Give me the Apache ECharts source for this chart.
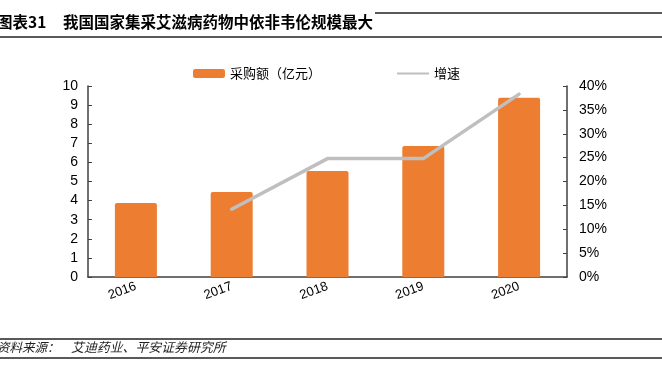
<!DOCTYPE html>
<html><head><meta charset="utf-8">
<script src="https://cdn.jsdelivr.net/npm/echarts@6/dist/echarts.min.js"></script>
<style>html,body{margin:0;padding:0;background:#fff}#c{width:662px;height:374px}</style>
</head><body><div id="c"></div>
<script>
var categories = ['2016', '2017', '2018', '2019', '2020'];
var purchaseAmount = [3.87, 4.45, 5.55, 6.86, 9.38];
var growthRate = [null, 14.2, 24.8, 24.8, 38.3];
var leftTicks = [0, 1, 2, 3, 4, 5, 6, 7, 8, 9, 10];
var rightTicks = [0, 5, 10, 15, 20, 25, 30, 35, 40];
var titleLabel = '图表31';
var titleText = '我国国家集采艾滋病药物中依非韦伦规模最大';
var sourceLabel = '资料来源：';
var sourceText = '艾迪药业、平安证券研究所';

var chart = echarts.init(document.getElementById('c'), null, {renderer: 'canvas'});
var axisColor = '#404040';
var font = '"Liberation Sans", Arial, "Noto Sans CJK SC", sans-serif';
chart.setOption({
  animation: false,
  textStyle: {fontFamily: font},
  grid: {left: 88, right: 95, top: 86, bottom: 97},
  legend: {
    top: 62, left: 188, itemGap: 76, itemWidth: 32, itemHeight: 9,
    textStyle: {fontSize: 13, color: '#000', fontFamily: '"Noto Sans CJK SC", sans-serif'},
    data: [{name: '采购额（亿元）', icon: 'roundRect'}, {name: '增速', icon: 'path://M0,4 L32,4 L32,6 L0,6 Z'}]
  },
  xAxis: {
    type: 'category', data: categories,
    axisLine: {lineStyle: {color: axisColor, width: 1.5}},
    axisTick: {inside: true, length: 4, lineStyle: {color: axisColor}},
    axisLabel: {rotate: 20, fontSize: 13, color: '#000', margin: 9}
  },
  yAxis: [{
    type: 'value', min: leftTicks[0], max: leftTicks[leftTicks.length - 1], interval: 1,
    axisLine: {show: true, lineStyle: {color: axisColor, width: 1.5}},
    axisTick: {show: true, inside: true, length: 4, lineStyle: {color: axisColor}},
    splitLine: {show: false},
    axisLabel: {fontSize: 14, color: '#000', margin: 10}
  }, {
    type: 'value', min: rightTicks[0], max: rightTicks[rightTicks.length - 1], interval: 5,
    position: 'right',
    axisLine: {show: true, lineStyle: {color: axisColor, width: 1.5}},
    axisTick: {show: true, inside: true, length: 4, lineStyle: {color: axisColor}},
    splitLine: {show: false},
    axisLabel: {fontSize: 14, color: '#000', margin: 12, formatter: '{value}%'}
  }],
  series: [{
    name: '采购额（亿元）', type: 'bar', data: purchaseAmount, barWidth: 42,
    itemStyle: {color: '#ED7D31', borderRadius: [2, 2, 0, 0]}
  }, {
    name: '增速', type: 'line', yAxisIndex: 1, data: growthRate,
    symbol: 'none', lineStyle: {color: '#BFBFBF', width: 3.5, cap: 'round'},
    itemStyle: {color: '#BFBFBF'}
  }],
  graphic: [
    {type: 'text', left: -3, top: 14, style: {text: titleLabel, font: 'bold 15.5px "Noto Sans CJK SC", sans-serif', fill: '#000'}},
    {type: 'text', left: 63, top: 14, style: {text: titleText, font: 'bold 15.5px "Noto Sans CJK SC", sans-serif', fill: '#000'}},
    {type: 'line', shape: {x1: 375, y1: 13, x2: 662, y2: 13}, style: {stroke: '#222', lineWidth: 1.3}},
    {type: 'line', shape: {x1: 0, y1: 37, x2: 662, y2: 37}, style: {stroke: '#222', lineWidth: 1.3}},
    {type: 'line', shape: {x1: 0, y1: 339, x2: 662, y2: 339}, style: {stroke: '#222', lineWidth: 1.3}},
    {type: 'line', shape: {x1: 0, y1: 358, x2: 662, y2: 358}, style: {stroke: '#222', lineWidth: 1.3}},
    {type: 'text', left: -3, top: 341, style: {text: sourceLabel, font: 'italic 12.5px "Noto Sans CJK SC", sans-serif', fill: '#222'}},
    {type: 'text', left: 71, top: 341, style: {text: sourceText, font: 'italic 12.9px "Noto Sans CJK SC", sans-serif', fill: '#222'}}
  ]
});
</script></body></html>
